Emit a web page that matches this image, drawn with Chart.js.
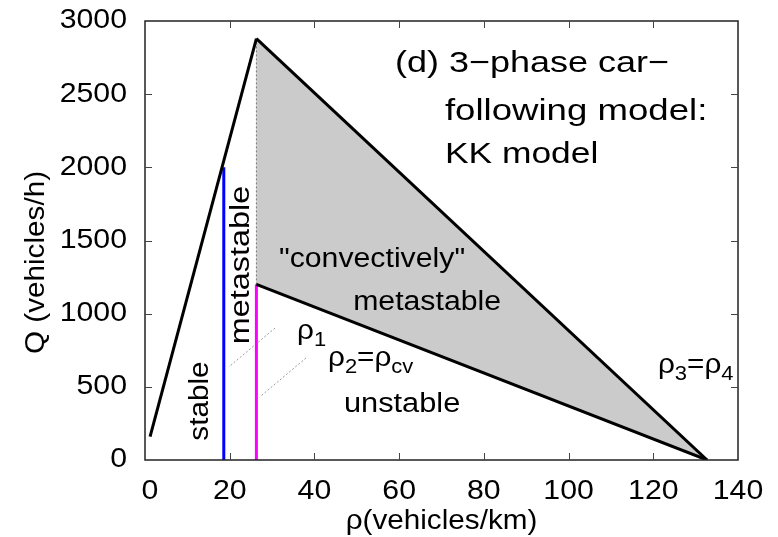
<!DOCTYPE html>
<html>
<head>
<meta charset="utf-8">
<script src="https://cdn.jsdelivr.net/npm/chart.js@4/dist/chart.umd.min.js"></script>
<style>
  html, body { margin: 0; padding: 0; background: #fff; }
  canvas { display: block; }
</style>
</head>
<body>
<canvas id="chart" width="778" height="537"></canvas>
<script>
// axis ticks
const xTicks = [0, 20, 40, 60, 80, 100, 120, 140];
const yTicks = [0, 500, 1000, 1500, 2000, 2500, 3000];

// free flow branch
const freeRho = [1.2, 26.3];
const freeQ = [160, 2880];

// synchronized flow region (upper and lower boundaries)
const synRho = [26.3, 132.7];
const synUpperQ = [2880, 0];
const synLowerQ = [1200, 0];

// characteristic densities
const rho1 = 18.6, rho1Q = 2000;
const rho2 = 26.3, rho2Q = 1200;

// label pointer lines [rho, Q] pairs
const pointer1 = [[30.7, 902], [19.8, 636]];
const pointer2 = [[38.0, 697], [27.1, 431]];

// text labels, in data coordinates
const labels = [
  { segs: [['(d) 3\u2212phase car\u2212']], x: 59.0, y: 2706, align: 'left', base: 'middle', sx: 1.2, size: 30 },
  { segs: [['following model:']], x: 70.8, y: 2378, align: 'left', base: 'middle', sx: 1.22, size: 30 },
  { segs: [['KK model']], x: 70.8, y: 2084, align: 'left', base: 'middle', sx: 1.18, size: 30 },
  { segs: [['stable']], x: 13.0, y: 403, align: 'center', base: 'middle', rot: -90, sx: 1.1 },
  { segs: [['metastable']], x: 22.9, y: 1333, align: 'center', base: 'middle', rot: -90, sx: 1.2 },
  { segs: [['"convectively"']], x: 53.6, y: 1367, align: 'center', base: 'middle', sx: 1.12 },
  { segs: [['metastable']], x: 66.6, y: 1073, align: 'center', base: 'middle', sx: 1.12 },
  { segs: [['unstable']], x: 60.7, y: 376, align: 'center', base: 'middle', sx: 1.14 },
  { segs: [['\u03c1'], ['1', 'sub']], x: 35.9, y: 827, align: 'left', base: 'alphabetic', sx: 1.1 },
  { segs: [['\u03c1'], ['2', 'sub'], ['=\u03c1'], ['cv', 'sub']], x: 43.2, y: 642, align: 'left', base: 'alphabetic', sx: 1.1 },
  { segs: [['\u03c1'], ['3', 'sub'], ['=\u03c1'], ['4', 'sub']], x: 121.1, y: 595, align: 'left', base: 'alphabetic', sx: 1.1 }
];

const FONT = '"Liberation Sans", Arial, Helvetica, sans-serif';

function pts(xs, ys) {
  return xs.map((x, i) => ({ x: x, y: ys[i] }));
}

function drawRich(ctx, lab, px, py) {
  const size = lab.size || 27, subSize = 20;
  ctx.save();
  ctx.translate(px, py);
  if (lab.rot) ctx.rotate(lab.rot * Math.PI / 180);
  ctx.scale(lab.sx || 1, 1);
  ctx.textBaseline = lab.base;
  ctx.textAlign = 'left';
  let total = 0;
  lab.segs.forEach(s => {
    ctx.font = (s[1] === 'sub' ? subSize : size) + 'px ' + FONT;
    total += ctx.measureText(s[0]).width;
  });
  let x = lab.align === 'center' ? -total / 2 : 0;
  lab.segs.forEach(s => {
    const sub = s[1] === 'sub';
    ctx.font = (sub ? subSize : size) + 'px ' + FONT;
    ctx.fillStyle = '#000';
    ctx.fillText(s[0], x, sub ? 7 : 0);
    x += ctx.measureText(s[0]).width;
  });
  ctx.restore();
}

function stretchText(ctx, text, x, y, align, sx, rot) {
  ctx.save();
  ctx.translate(x, y);
  if (rot) ctx.rotate(rot * Math.PI / 180);
  ctx.scale(sx, 1);
  ctx.textAlign = align;
  ctx.textBaseline = 'middle';
  ctx.fillText(text, 0, 0);
  ctx.restore();
}

const framePlugin = {
  id: 'frame',
  afterDatasetsDraw(chart) {
    const ctx = chart.ctx;
    const a = chart.chartArea;
    const xs = chart.scales.x, ys = chart.scales.y;
    const tl = 7;
    ctx.save();
    // border
    ctx.strokeStyle = '#222';
    ctx.lineWidth = 1.5;
    ctx.strokeRect(a.left, a.top, a.right - a.left, a.bottom - a.top);
    // inward ticks, mirrored
    ctx.lineWidth = 1;
    ctx.strokeStyle = '#444';
    ctx.beginPath();
    xTicks.forEach(v => {
      const p = Math.round(xs.getPixelForValue(v)) + 0.5;
      if (v === xTicks[0] || v === xTicks[xTicks.length - 1]) return;
      ctx.moveTo(p, a.bottom); ctx.lineTo(p, a.bottom - tl);
      ctx.moveTo(p, a.top); ctx.lineTo(p, a.top + tl);
    });
    yTicks.forEach(v => {
      const p = Math.round(ys.getPixelForValue(v)) + 0.5;
      if (v === yTicks[0] || v === yTicks[yTicks.length - 1]) return;
      ctx.moveTo(a.left, p); ctx.lineTo(a.left + tl, p);
      ctx.moveTo(a.right, p); ctx.lineTo(a.right - tl, p);
    });
    ctx.stroke();

    // tick labels
    ctx.fillStyle = '#000';
    ctx.font = '27px ' + FONT;
    xTicks.forEach(v => {
      stretchText(ctx, String(v), xs.getPixelForValue(v) + (v === 0 ? 5 : 0), a.bottom + 32, 'center', 1.12);
    });
    yTicks.forEach(v => {
      stretchText(ctx, String(v), a.left - 18, ys.getPixelForValue(v), 'right', 1.12);
    });

    // axis titles
    ctx.font = '28px ' + FONT;
    stretchText(ctx, '\u03c1(vehicles/km)', (a.left + a.right) / 2, a.bottom + 61, 'center', 1.06);
    stretchText(ctx, 'Q (vehicles/h)', 36, (a.top + a.bottom) / 2 + 22, 'center', 1.06, -90);

    // in-plot labels
    labels.forEach(l => {
      drawRich(ctx, l, xs.getPixelForValue(l.x), ys.getPixelForValue(l.y));
    });
    ctx.restore();
  }
};

const lineStyle = { showLine: true, pointRadius: 0, fill: false, tension: 0 };

new Chart(document.getElementById('chart'), {
  type: 'scatter',
  data: {
    datasets: [
      Object.assign({}, lineStyle, {
        label: 'free flow',
        data: pts(freeRho, freeQ),
        borderColor: '#000', borderWidth: 3, order: 1
      }),
      Object.assign({}, lineStyle, {
        label: 'upper synchronized',
        data: pts(synRho, synUpperQ),
        borderColor: '#000', borderWidth: 3, order: 1
      }),
      Object.assign({}, lineStyle, {
        label: 'lower synchronized',
        data: pts(synRho, synLowerQ),
        borderColor: '#000', borderWidth: 3, order: 1
      }),
      Object.assign({}, lineStyle, {
        label: 'rho1',
        data: [{ x: rho1, y: 0 }, { x: rho1, y: rho1Q }],
        borderColor: '#0000ff', borderWidth: 3, order: 2
      }),
      Object.assign({}, lineStyle, {
        label: 'rho2',
        data: [{ x: rho2, y: 0 }, { x: rho2, y: rho2Q }],
        borderColor: '#ff00ff', borderWidth: 3, order: 2
      }),
      Object.assign({}, lineStyle, {
        label: 'edge',
        data: [{ x: synRho[0], y: synLowerQ[0] }, { x: synRho[0], y: synUpperQ[0] }],
        borderColor: '#777', borderWidth: 1, borderDash: [2, 2], order: 3
      }),
      Object.assign({}, lineStyle, {
        label: 'pointer1',
        data: pointer1.map(p => ({ x: p[0], y: p[1] })),
        borderColor: '#999', borderWidth: 1, borderDash: [2, 2], order: 3
      }),
      Object.assign({}, lineStyle, {
        label: 'pointer2',
        data: pointer2.map(p => ({ x: p[0], y: p[1] })),
        borderColor: '#999', borderWidth: 1, borderDash: [2, 2], order: 3
      }),
      Object.assign({}, lineStyle, {
        label: 'region',
        data: [
          { x: synRho[0], y: synUpperQ[0] },
          { x: synRho[1], y: synUpperQ[1] },
          { x: synRho[0], y: synLowerQ[0] }
        ],
        borderWidth: 0, borderColor: 'rgba(0,0,0,0)',
        backgroundColor: '#cbcbcb', fill: 'shape', order: 4
      })
    ]
  },
  options: {
    responsive: false,
    animation: false,
    layout: { padding: { left: 145, right: 40, top: 21, bottom: 77 } },
    scales: {
      x: { type: 'linear', min: 0, max: 140, display: false },
      y: { type: 'linear', min: 0, max: 3000, display: false }
    },
    plugins: { legend: { display: false }, tooltip: { enabled: false } }
  },
  plugins: [framePlugin]
});
</script>
</body>
</html>
